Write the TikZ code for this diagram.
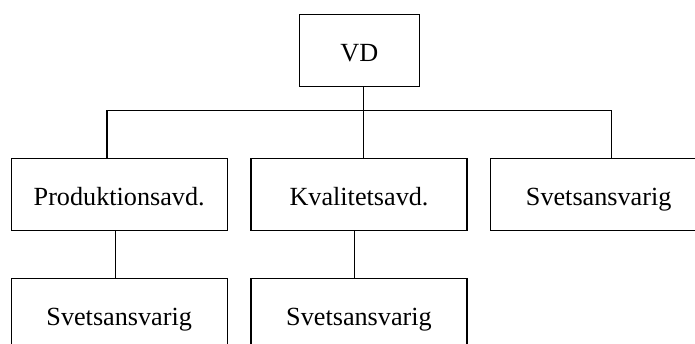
\documentclass[tikz,border=0pt]{standalone}
\usepackage{fontspec}
\setmainfont{Liberation Serif}
\begin{document}
\begin{tikzpicture}[x=1pt,y=-1pt,
  box/.style={draw,line width=1.4pt,fill=white,minimum width=216pt,minimum height=72pt,inner sep=0pt,text height=21.5pt,text depth=0pt,font=\fontsize{26.2}{30}\selectfont},
  conn/.style={line width=1.4pt}]
\clip (0,0) rectangle (695,344);
\fill[white] (0,0) rectangle (695,344);
\node[box,minimum width=120pt] (VD) at (359.3,50.5) {VD};
\node[box] (P) at (119.2,194.5) {Produktionsavd.};
\node[box] (K) at (359,194.5) {Kvalitetsavd.};
\node[box] (S) at (598.7,194.5) {Svetsansvarig};
\node[box] (P2) at (119.2,314.3) {Svetsansvarig};
\node[box] (K2) at (359,314.3) {Svetsansvarig};
\coordinate (busL) at (107,110.5);
\coordinate (busM) at (363.5,110.5);
\coordinate (busR) at (611.5,110.5);
\draw[conn] (busM |- VD.south) -- (busM);
\draw[conn] (busL |- P.north) -- (busL) -- (busR) -- (busR |- S.north);
\draw[conn] (busM) -- (busM |- K.north);
\draw[conn] ([xshift=-4pt]P.south) -- ([xshift=-4pt]P2.north);
\draw[conn] ([xshift=-4.4pt]K.south) -- ([xshift=-4.4pt]K2.north);
\end{tikzpicture}
\end{document}
